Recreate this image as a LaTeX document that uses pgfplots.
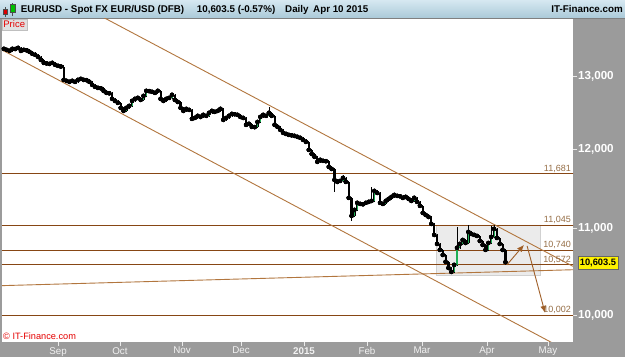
\documentclass[border=0pt]{standalone}
\usepackage{fontspec}
\setmainfont{Liberation Sans}
\usepackage{pgfplots}
\pgfplotsset{compat=1.18}
\usepackage{pgfplotstable}
\usetikzlibrary{arrows.meta}

\definecolor{hline}{RGB}{135,70,20}
\definecolor{tline}{RGB}{178,118,62}
\definecolor{lbl}{RGB}{150,110,70}
\definecolor{arr}{RGB}{160,95,40}
\definecolor{cgreen}{RGB}{30,175,85}
\definecolor{panel}{RGB}{155,155,155}
\definecolor{hdtop}{RGB}{214,232,241}
\definecolor{hdbot}{RGB}{168,200,215}

\pgfplotstableread{
x o h l c
-19 13405 13425 13380 13397
-18 13397 13415 13365 13382
-17 13382 13400 13350 13367
-16 13367 13420 13352 13397
-15 13397 13412 13378 13395
-14 13395 13430 13380 13411
-13 13411 13425 13350 13367
-12 13367 13400 13352 13382
-11 13382 13398 13360 13375
-10 13375 13390 13335 13353
-9 13353 13368 13305 13324
-8 13324 13345 13290 13309
-7 13309 13322 13262 13280
-6 13280 13296 13218 13236
-5 13236 13250 13175 13193
-4 13193 13210 13168 13185
-3 13185 13200 13160 13178
-2 13178 13212 13165 13193
-1 13193 13208 13148 13164
0 13164 13180 13132 13150
1 13150 13165 13122 13140
2 13140 13158 12925 12949
3 12949 12968 12918 12935
4 12935 12950 12900 12921
5 12921 12955 12905 12935
6 12935 12950 12905 12921
7 12921 12968 12906 12949
8 12949 12985 12935 12963
9 12963 12978 12930 12949
10 12949 12965 12928 12945
11 12945 12960 12902 12921
12 12921 12935 12860 12878
13 12878 12895 12832 12850
14 12850 12868 12818 12836
15 12836 12852 12812 12830
16 12830 12845 12775 12794
17 12794 12810 12748 12766
18 12766 12785 12742 12760
19 12760 12775 12665 12682
20 12682 12698 12638 12654
21 12654 12670 12608 12627
22 12627 12642 12540 12558
23 12558 12575 12489 12516
24 12516 12575 12500 12558
25 12558 12605 12540 12585
26 12585 12672 12570 12654
27 12654 12700 12638 12682
28 12682 12715 12665 12696
29 12696 12712 12650 12668
30 12668 12742 12652 12724
31 12724 12815 12705 12794
32 12794 12810 12772 12790
33 12790 12805 12762 12780
34 12780 12795 12748 12766
35 12766 12812 12750 12794
36 12794 12810 12665 12682
37 12682 12698 12636 12654
38 12654 12700 12638 12682
39 12682 12715 12665 12696
40 12696 12758 12680 12738
41 12738 12752 12650 12668
42 12668 12685 12622 12640
43 12640 12655 12540 12558
44 12558 12575 12498 12516
45 12516 12562 12500 12544
46 12544 12560 12512 12530
47 12530 12545 12390 12407
48 12407 12438 12392 12420
49 12420 12465 12405 12448
50 12448 12462 12418 12434
51 12434 12480 12420 12462
52 12462 12478 12432 12448
53 12448 12505 12432 12489
54 12489 12535 12475 12516
55 12516 12530 12488 12503
56 12503 12532 12488 12516
57 12516 12562 12500 12544
58 12544 12560 12378 12393
59 12393 12438 12378 12420
60 12420 12465 12405 12448
61 12448 12492 12432 12475
62 12475 12490 12455 12470
63 12470 12485 12446 12462
64 12462 12478 12420 12434
65 12434 12450 12405 12420
66 12420 12436 12310 12326
67 12326 12358 12312 12340
68 12340 12355 12282 12299
69 12299 12315 12280 12295
70 12295 12384 12280 12366
71 12366 12452 12350 12434
72 12434 12478 12420 12462
73 12462 12478 12432 12448
74 12448 12571 12432 12489
75 12489 12505 12432 12448
76 12448 12462 12310 12326
77 12326 12342 12282 12299
78 12299 12315 12240 12258
79 12258 12272 12202 12218
80 12218 12234 12188 12204
81 12204 12220 12175 12191
82 12191 12210 12170 12185
83 12185 12200 12162 12178
84 12178 12192 12150 12165
85 12165 12180 12136 12151
86 12151 12168 12110 12125
87 12125 12140 12082 12098
88 12098 12112 11975 11992
89 11992 12008 11925 11940
90 11940 11956 11885 11901
91 11901 11918 11820 11836
92 11836 11878 11822 11862
93 11862 11878 11835 11849
94 11849 11865 11830 11845
95 11845 11860 11755 11771
96 11771 11786 11730 11745
97 11745 11760 11453 11604
98 11604 11620 11565 11579
99 11579 11608 11565 11591
100 11591 11668 11575 11629
101 11629 11645 11565 11579
102 11579 11595 11362 11378
103 11378 11392 11094 11155
104 11155 11245 11140 11229
105 11229 11332 11214 11316
106 11316 11330 11288 11303
107 11303 11318 11284 11298
108 11298 11330 11283 11316
109 11316 11342 11300 11328
110 11328 11516 11312 11340
111 11340 11480 11325 11465
112 11465 11480 11425 11440
113 11440 11455 11300 11316
114 11316 11330 11288 11303
115 11303 11355 11288 11340
116 11340 11380 11325 11365
117 11365 11405 11350 11390
118 11390 11430 11375 11415
119 11415 11430 11388 11403
120 11403 11418 11383 11398
121 11398 11412 11362 11378
122 11378 11405 11363 11390
123 11390 11405 11350 11365
124 11365 11380 11325 11340
125 11340 11393 11325 11378
126 11378 11392 11312 11328
127 11328 11342 11264 11279
128 11279 11294 11177 11192
129 11192 11207 11152 11167
130 11167 11182 11128 11143
131 11143 11158 11042 11058
132 11058 11073 10910 10925
133 10925 10940 10803 10818
134 10818 10833 10732 10747
135 10747 10762 10673 10688
136 10688 10703 10592 10607
137 10607 10622 10522 10537
138 10537 10552 10468 10491
139 10491 10585 10476 10572
140 10572 11022 10557 10771
141 10771 10832 10756 10818
142 10818 10880 10803 10865
143 10865 10880 10814 10829
144 10829 11046 10814 10961
145 10961 10976 10922 10937
146 10937 10952 10910 10925
147 10925 10940 10898 10913
148 10913 10928 10838 10853
149 10853 10868 10791 10806
150 10806 10821 10732 10747
151 10747 10844 10732 10829
152 10829 11034 10814 10901
153 10901 11046 10886 10997
154 10997 11012 10874 10889
155 10889 10904 10803 10818
156 10818 10833 10732 10747
157 10747 10762 10590 10603.5
}\candles

\begin{document}
\begin{tikzpicture}[x=1pt,y=1pt]
\useasboundingbox (0,0) rectangle (625,357);
\fill[panel] (0,0) rectangle (625,338);
\shade[top color=hdtop, bottom color=hdbot] (0,338) rectangle (625,357);
\draw[black!50, line width=0.8pt] (0,338.4) -- (625,338.4);
\fill[white] (2,15) rectangle (573,338);

\begin{axis}[
  at={(2pt,15pt)}, anchor=south west,
  scale only axis, width=571pt, height=323pt,
  xmin=-19.649, xmax=180.702,
  ymode=log, ymin=9716, ymax=13844,
  axis line style={draw=none},
  clip=true,
  xtick={0,21.75,43.51,64.21,86.32,108.42,127.72,150.53,171.93},
  xticklabels={Sep,Oct,Nov,Dec,\textbf{2015},Feb,Mar,Apr,May},
  ytick={10000,11000,12000,13000},
  yticklabels={{10,000},{11,000},{12,000},{13,000}},
  yminorticks=false, xminorticks=false,
  xtick pos=bottom, ytick pos=right, yticklabel pos=right,
  tick align=outside, major tick length=4pt,
  tick style={white!80!panel, line width=0.8pt},
  xticklabel style={font=\fontsize{9.8}{10}\selectfont, text=white!95!black, yshift=2.2pt},
  yticklabel style={font=\bfseries\fontsize{11.6}{12}\selectfont, text=white, anchor=west, inner sep=1pt},
]
% trading range box
\addplot[fill=black!8, draw=black!18, line width=0.8pt] coordinates {(132.8,11045) (169.3,11045) (169.3,10456) (132.8,10456) (132.8,11045)};
% horizontal levels
\addplot[hline, line width=0.9pt] coordinates {(-20,11681) (181,11681)};
\addplot[hline, line width=0.9pt] coordinates {(-20,11045) (181,11045)};
\addplot[hline, line width=0.9pt] coordinates {(-20,10740) (181,10740)};
\addplot[hline, line width=0.9pt] coordinates {(-20,10572) (181,10572)};
\addplot[hline, line width=0.9pt] coordinates {(-20,10002) (181,10002)};
% trend lines
\addplot[tline, line width=0.9pt] coordinates {(14.74,13894) (180.7,10555)};
\addplot[tline, line width=0.9pt] coordinates {(-19.65,13381) (176.1,9663)};
\addplot[tline, line width=0.9pt] coordinates {(-19.65,10334) (180.7,10516)};
% candles: wicks
\addplot[only marks, mark=none, error bars/.cd, y dir=both, y explicit, error mark=none,
  error bar style={black, line width=0.7pt}]
  table[x=x, y=c, y error plus expr={\thisrow{h}-\thisrow{c}}, y error minus expr={\thisrow{c}-\thisrow{l}}] {\candles};
% candles: bodies
\addplot[only marks, mark=none, error bars/.cd, y dir=both, y explicit, error mark=none,
  error bar style={black, line width=2.2pt}]
  table[x=x, y=c, y error plus expr={max(\thisrow{o}-\thisrow{c},0)}, y error minus expr={max(\thisrow{c}-\thisrow{o},0)}] {\candles};
\addplot[only marks, mark=none, error bars/.cd, y dir=both, y explicit, error mark=none,
  error bar style={cgreen, line width=1.1pt}]
  table[x=x, y=c, y error plus expr={0}, y error minus expr={max(\thisrow{c}-\thisrow{o},0)}] {\candles};
% arrows
\addplot[arr, line width=0.9pt, -{Latex[length=7pt,width=6pt]}] coordinates {(157.5,10572) (163.5,10806)};
\addplot[arr, line width=0.9pt, -{Latex[length=7pt,width=6pt]}] coordinates {(164.6,10794) (170.9,10030)};
% level labels
\node[anchor=base east, text=lbl, inner sep=0pt, yshift=2.3pt, font=\fontsize{9}{10}\selectfont] at (axis cs:180,11681) {11,681};
\node[anchor=base east, text=lbl, inner sep=0pt, yshift=2.0pt, font=\fontsize{9}{10}\selectfont] at (axis cs:180,11045) {11,045};
\node[anchor=base east, text=lbl, inner sep=0pt, yshift=2.8pt, font=\fontsize{9}{10}\selectfont] at (axis cs:180,10740) {10,740};
\node[anchor=base east, text=lbl, inner sep=0pt, yshift=2.3pt, font=\fontsize{9}{10}\selectfont] at (axis cs:180,10572) {10,572};
\node[anchor=base east, text=lbl, inner sep=0pt, yshift=2.5pt, font=\fontsize{9}{10}\selectfont] at (axis cs:180,10002) {10,002};
\end{axis}

% header icon
\draw[black!70, line width=0.5pt] (5.5,340) -- (5.5,350);
\filldraw[fill=red!85!black, draw=black!70, line width=0.4pt] (3.6,343) rectangle (7.4,348);
\draw[black!70, line width=0.5pt] (12.7,341) -- (12.7,354);
\filldraw[fill=green!75!black, draw=black!70, line width=0.4pt] (10.3,344.3) rectangle (15.2,353);
% header texts
\begin{scope}[every node/.style={inner sep=0pt, font=\bfseries\fontsize{9.8}{11}\selectfont}]
\node[anchor=base west] at (20.7,344.3) {EURUSD - Spot FX EUR/USD (DFB)};
\node[anchor=base west] at (196.7,344.3) {10,603.5 (-0.57\%)};
\node[anchor=base west] at (285,344.3) {Daily};
\node[anchor=base west] at (313,344.3) {Apr 10 2015};
\node[anchor=base east] at (623,344.3) {IT-Finance.com};
\end{scope}
% price tag
\filldraw[fill=black!12, draw=black!25, line width=0.4pt] (2,327) rectangle (27,338);
\node[anchor=base west, inner sep=0pt, text=red!90!black, font=\fontsize{9.5}{10}\selectfont] at (3.2,329.3) {Price};
% copyright
\node[anchor=base west, inner sep=0pt, text=red!90!black, font=\fontsize{9.2}{10}\selectfont] at (3,18) {© IT-Finance.com};
% last price box
\filldraw[fill=yellow, draw=black!60, line width=0.5pt] (578,88) rectangle (618,101);
\node[inner sep=0pt, font=\bfseries\fontsize{9.3}{10}\selectfont] at (598,94.5) {10,603.5};
\end{tikzpicture}
\end{document}
